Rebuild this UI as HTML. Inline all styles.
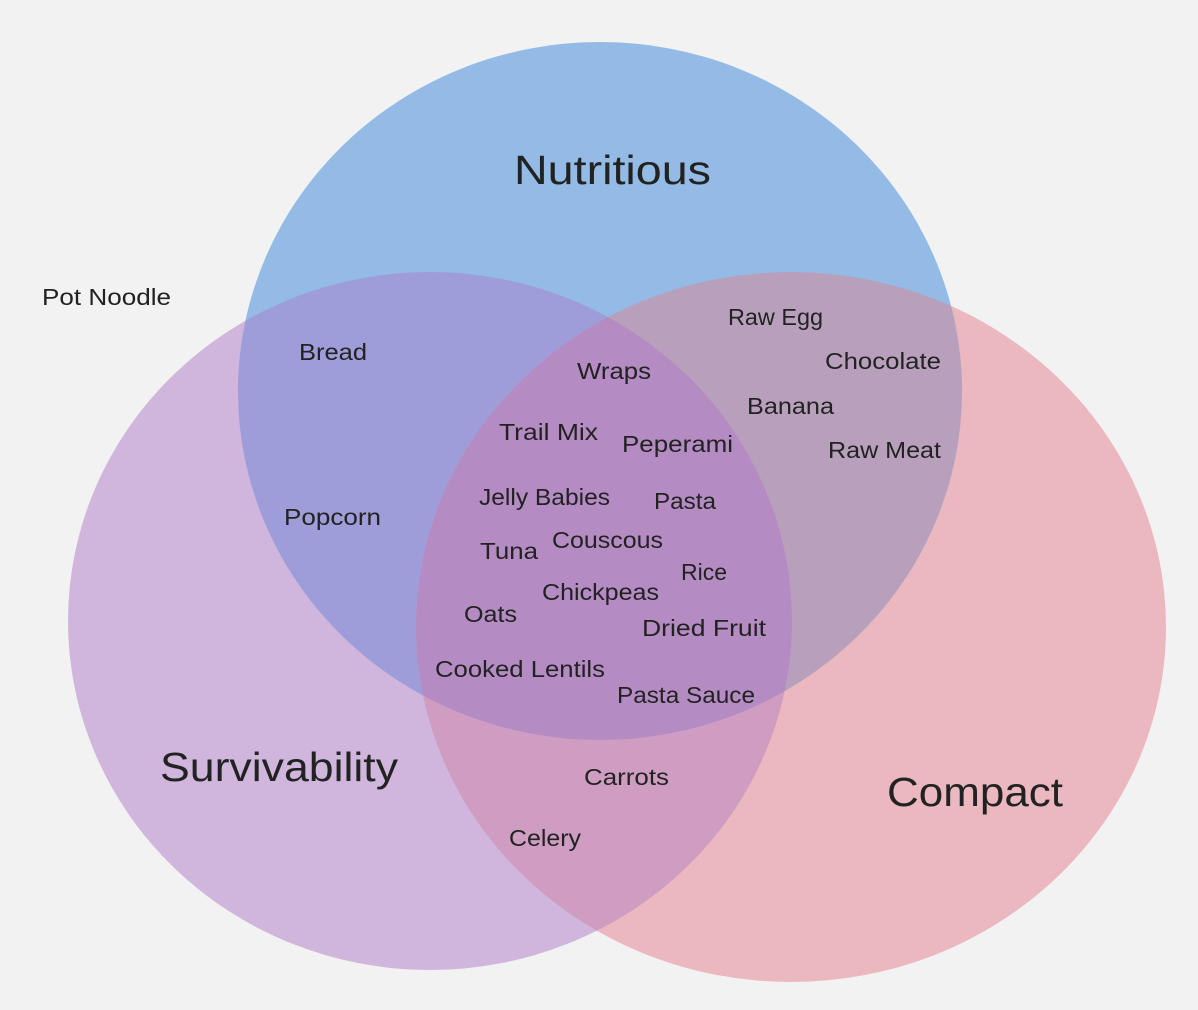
<!DOCTYPE html>
<html><head><meta charset="utf-8"><style>
html,body{margin:0;padding:0;background:#f2f2f2;}
svg{display:block}
text{font-family:"Liberation Sans",sans-serif;fill:#222;dominant-baseline:central}
.t{font-size:41px}
.i{font-size:23px}
</style></head><body>
<svg width="1198" height="1010" viewBox="0 0 1198 1010" xmlns="http://www.w3.org/2000/svg">
<defs>
<clipPath id="cN"><ellipse cx="600" cy="391" rx="362" ry="349"/></clipPath>
<clipPath id="cS"><ellipse cx="430" cy="621" rx="362" ry="349"/></clipPath>
<clipPath id="cC"><ellipse cx="791" cy="627" rx="375" ry="355"/></clipPath>
</defs>
<rect width="1198" height="1010" fill="#f2f2f2"/>
<ellipse cx="430" cy="621" rx="362" ry="349" fill="#d0b6dc"/>
<ellipse cx="791" cy="627" rx="375" ry="355" fill="#ebb8c0"/>
<ellipse cx="600" cy="391" rx="362" ry="349" fill="#93bbe6"/>
<g clip-path="url(#cN)"><ellipse cx="430" cy="621" rx="362" ry="349" fill="#9f9dd9"/></g>
<g clip-path="url(#cN)"><ellipse cx="791" cy="627" rx="375" ry="355" fill="#b8a0bd"/></g>
<g clip-path="url(#cS)"><ellipse cx="791" cy="627" rx="375" ry="355" fill="#cf9cc2"/></g>
<g clip-path="url(#cS)"><g clip-path="url(#cC)"><ellipse cx="600" cy="391" rx="362" ry="349" fill="#b48bc2"/></g></g>
<text class="t" x="514" y="170" textLength="197" lengthAdjust="spacingAndGlyphs">Nutritious</text>
<text class="t" x="160" y="767" textLength="238" lengthAdjust="spacingAndGlyphs">Survivability</text>
<text class="t" x="887" y="792" textLength="176" lengthAdjust="spacingAndGlyphs">Compact</text>
<text class="i" x="42" y="297" textLength="129" lengthAdjust="spacingAndGlyphs">Pot Noodle</text>
<text class="i" x="299" y="352" textLength="68" lengthAdjust="spacingAndGlyphs">Bread</text>
<text class="i" x="284" y="517" textLength="97" lengthAdjust="spacingAndGlyphs">Popcorn</text>
<text class="i" x="728" y="317" textLength="95" lengthAdjust="spacingAndGlyphs">Raw Egg</text>
<text class="i" x="825" y="361" textLength="116" lengthAdjust="spacingAndGlyphs">Chocolate</text>
<text class="i" x="747" y="406" textLength="87" lengthAdjust="spacingAndGlyphs">Banana</text>
<text class="i" x="828" y="450" textLength="113" lengthAdjust="spacingAndGlyphs">Raw Meat</text>
<text class="i" x="577" y="371" textLength="74" lengthAdjust="spacingAndGlyphs">Wraps</text>
<text class="i" x="499" y="432" textLength="99" lengthAdjust="spacingAndGlyphs">Trail Mix</text>
<text class="i" x="622" y="444" textLength="111" lengthAdjust="spacingAndGlyphs">Peperami</text>
<text class="i" x="479" y="497" textLength="131" lengthAdjust="spacingAndGlyphs">Jelly Babies</text>
<text class="i" x="654" y="501" textLength="62" lengthAdjust="spacingAndGlyphs">Pasta</text>
<text class="i" x="480" y="551" textLength="58" lengthAdjust="spacingAndGlyphs">Tuna</text>
<text class="i" x="552" y="540" textLength="111" lengthAdjust="spacingAndGlyphs">Couscous</text>
<text class="i" x="681" y="572" textLength="46" lengthAdjust="spacingAndGlyphs">Rice</text>
<text class="i" x="542" y="592" textLength="117" lengthAdjust="spacingAndGlyphs">Chickpeas</text>
<text class="i" x="464" y="614" textLength="53" lengthAdjust="spacingAndGlyphs">Oats</text>
<text class="i" x="642" y="628" textLength="124" lengthAdjust="spacingAndGlyphs">Dried Fruit</text>
<text class="i" x="435" y="669" textLength="170" lengthAdjust="spacingAndGlyphs">Cooked Lentils</text>
<text class="i" x="617" y="695" textLength="138" lengthAdjust="spacingAndGlyphs">Pasta Sauce</text>
<text class="i" x="584" y="777" textLength="85" lengthAdjust="spacingAndGlyphs">Carrots</text>
<text class="i" x="509" y="838" textLength="72" lengthAdjust="spacingAndGlyphs">Celery</text>
</svg>
</body></html>
